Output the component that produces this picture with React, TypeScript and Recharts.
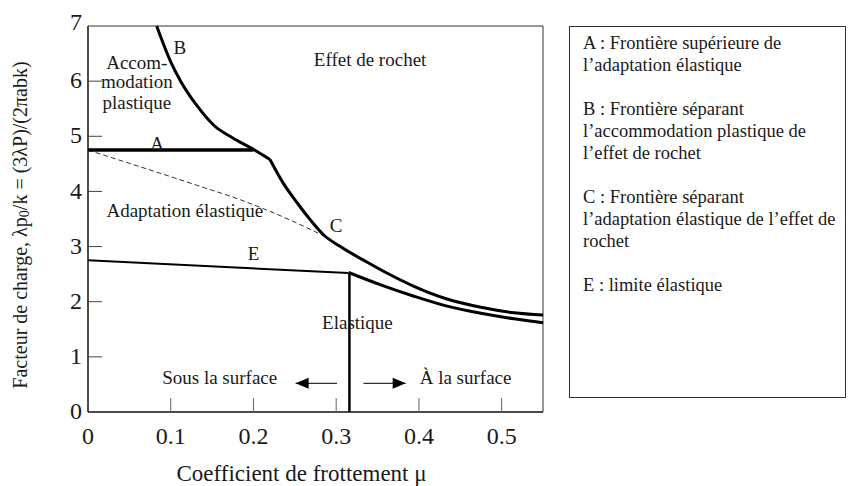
import React from "react";
import { LineChart, Line, XAxis, YAxis, ReferenceLine, ReferenceDot } from "recharts";

const xTicks = [0, 0.1, 0.2, 0.3, 0.4, 0.5];
const yTicks = [0, 1, 2, 3, 4, 5, 6, 7];

// A : upper limit of elastic shakedown
const curveA = [
  { x: 0, y: 4.75 },
  { x: 0.2, y: 4.75 },
];
// B : plastic accommodation / ratchetting boundary
const curveB = [
  { x: 0.083, y: 7 },
  { x: 0.1, y: 6.35 },
  { x: 0.112, y: 6.0 },
  { x: 0.132, y: 5.55 },
  { x: 0.152, y: 5.2 },
  { x: 0.175, y: 4.97 },
  { x: 0.198, y: 4.78 },
  { x: 0.22, y: 4.58 },
];
// C : elastic shakedown / ratchetting boundary
const curveC = [
  { x: 0.22, y: 4.58 },
  { x: 0.236, y: 4.15 },
  { x: 0.253, y: 3.79 },
  { x: 0.269, y: 3.48 },
  { x: 0.285, y: 3.21 },
  { x: 0.305, y: 3.0 },
  { x: 0.337, y: 2.72 },
  { x: 0.36, y: 2.53 },
  { x: 0.394, y: 2.28 },
  { x: 0.434, y: 2.05 },
  { x: 0.475, y: 1.9 },
  { x: 0.515, y: 1.8 },
  { x: 0.55, y: 1.76 },
];
// dashed boundary
const curveDashed = [
  { x: 0, y: 4.75 },
  { x: 0.136, y: 4.09 },
  { x: 0.184, y: 3.85 },
  { x: 0.249, y: 3.45 },
  { x: 0.287, y: 3.18 },
];
// E : elastic limit
const curveE = [
  { x: 0, y: 2.75 },
  { x: 0.315, y: 2.52 },
];
const curveE2 = [
  { x: 0.315, y: 2.53 },
  { x: 0.353, y: 2.31 },
  { x: 0.394, y: 2.1 },
  { x: 0.434, y: 1.92 },
  { x: 0.475, y: 1.79 },
  { x: 0.515, y: 1.69 },
  { x: 0.55, y: 1.62 },
];
const vertical = [
  { x: 0.316, y: 0 },
  { x: 0.316, y: 2.52 },
];
const arrowLeft = [
  { x: 0.301, y: 0.52 },
  { x: 0.251, y: 0.52 },
];
const arrowRight = [
  { x: 0.333, y: 0.52 },
  { x: 0.384, y: 0.52 },
];

const annotations = [
  { text: "Accom-", x: 0.059, y: 6.35 },
  { text: "modation", x: 0.059, y: 5.99 },
  { text: "plastique", x: 0.059, y: 5.61 },
  { text: "B", x: 0.111, y: 6.62 },
  { text: "A", x: 0.0835, y: 4.88 },
  { text: "Adaptation élastique", x: 0.117, y: 3.65 },
  { text: "Effet de rochet", x: 0.341, y: 6.39 },
  { text: "C", x: 0.3, y: 3.39 },
  { text: "E", x: 0.2, y: 2.886 },
  { text: "Elastique", x: 0.3257, y: 1.633 },
  { text: "Sous la surface", x: 0.1592, y: 0.635 },
  { text: "À la surface", x: 0.4564, y: 0.635 },
];

const legendParagraphs = [
  ["A : Frontière supérieure de", "l’adaptation élastique"],
  ["B : Frontière séparant", "l’accommodation plastique de", "l’effet de rochet"],
  ["C : Frontière séparant", "l’adaptation élastique de l’effet de", "rochet"],
  ["E : limite élastique"],
];

const FONT = "'Liberation Serif', 'Times New Roman', serif";
const TEXT = "#1a1a1a";

const YTick = (props: any) => {
  const { x, y, payload } = props;
  const axisX = x + 6;
  const v = payload.value;
  return (
    <g>
      {v > 0 && v < 7 ? (
        <line x1={axisX} x2={axisX + 14} y1={y} y2={y} stroke="#444" strokeWidth={1} />
      ) : null}
      <text x={x} y={v === 7 ? y - 3 : y} dy="0.3em" textAnchor="end" fontSize={24} fill={TEXT} fontFamily={FONT}>
        {v}
      </text>
    </g>
  );
};

const XTick = (props: any) => {
  const { x, y, payload } = props;
  const axisY = y - 15;
  const v = payload.value;
  return (
    <g>
      {v > 0 ? (
        <line x1={x} x2={x} y1={axisY} y2={axisY - 14} stroke="#666" strokeWidth={1} />
      ) : null}
      <text x={x} y={y} dy="0.71em" textAnchor="middle" fontSize={24} fill={TEXT} fontFamily={FONT}>
        {v}
      </text>
    </g>
  );
};

const arrowDot = (dir: number) => (props: any) => {
  const { cx, cy, index } = props;
  if (index !== 1) return <g key={`d${index}`} />;
  const b = cx + dir * 13;
  return (
    <path
      key={`d${index}`}
      d={`M${cx},${cy} L${b},${cy - 5.5} L${b},${cy + 5.5} Z`}
      fill="#000"
      stroke="none"
    />
  );
};

const YTitle = (props: any) => {
  const { viewBox } = props;
  const cx = viewBox.x + 20;
  const cy = viewBox.y + viewBox.height / 2 + 6;
  return (
    <text
      x={cx}
      y={cy}
      transform={`rotate(-90 ${cx} ${cy})`}
      textAnchor="middle"
      dominantBaseline="central"
      fontSize={20}
      fill={TEXT}
      fontFamily={FONT}
    >
      Facteur de charge, λp<tspan fontSize={14} dy={4}>0</tspan>
      <tspan dy={-4}>/k = (3λP)/(2πabk)</tspan>
    </text>
  );
};

const XTitle = (props: any) => {
  const { viewBox } = props;
  const cx = viewBox.x + viewBox.width / 2 - 14;
  const cy = viewBox.y + 61;
  return (
    <text x={cx} y={cy} textAnchor="middle" dominantBaseline="central" fontSize={23} fill={TEXT} fontFamily={FONT}>
      Coefficient de frottement μ
    </text>
  );
};

const lineCommon = {
  dataKey: "y",
  dot: false,
  activeDot: false,
  isAnimationActive: false,
  stroke: "#000",
  legendType: "none" as const,
};

export default function App() {
  return (
    <div style={{ position: "absolute", left: 0, top: 0, width: 850, height: 486, background: "#fff", fontFamily: FONT }}>
      <LineChart
        width={850}
        height={486}
        margin={{ top: 26, right: 307, bottom: 14, left: 0 }}
        style={{ fontFamily: FONT }}
      >
        <XAxis
          type="number"
          dataKey="x"
          domain={[0, 0.55]}
          ticks={xTicks}
          allowDuplicatedCategory={false}
          height={60}
          tickSize={0}
          tickMargin={15}
          tickLine={false}
          tick={<XTick />}
          axisLine={{ stroke: "#111", strokeWidth: 1.5 }}
          label={<XTitle />}
        />
        <YAxis
          type="number"
          domain={[0, 7]}
          ticks={yTicks}
          width={88}
          tickSize={0}
          tickMargin={6}
          tickLine={false}
          tick={<YTick />}
          axisLine={{ stroke: "#111", strokeWidth: 1.5 }}
          label={<YTitle />}
        />
        <ReferenceLine y={7} stroke="#333" strokeWidth={1} />
        <ReferenceLine x={0.55} stroke="#333" strokeWidth={1} />

        <Line {...lineCommon} data={curveDashed} type="monotone" strokeWidth={1} strokeDasharray="5 3" stroke="#333" />
        <Line {...lineCommon} data={curveA} type="linear" strokeWidth={3.5} />
        <Line {...lineCommon} data={curveB} type="monotone" strokeWidth={3} />
        <Line {...lineCommon} data={curveC} type="monotone" strokeWidth={3} />
        <Line {...lineCommon} data={curveE} type="linear" strokeWidth={2} />
        <Line {...lineCommon} data={curveE2} type="monotone" strokeWidth={3} />
        <Line {...lineCommon} data={vertical} type="linear" strokeWidth={2.5} />
        <Line {...lineCommon} data={arrowLeft} type="linear" strokeWidth={1} dot={arrowDot(1)} />
        <Line {...lineCommon} data={arrowRight} type="linear" strokeWidth={1} dot={arrowDot(-1)} />

        {annotations.map((a, i) => (
          <ReferenceDot
            key={i}
            x={a.x}
            y={a.y}
            r={0}
            fill="none"
            stroke="none"
            label={{ value: a.text, position: "center", fontSize: 19, fill: TEXT, fontFamily: FONT }}
          />
        ))}
      </LineChart>
      <div
        style={{
          position: "absolute",
          left: 569,
          top: 26,
          width: 277,
          height: 372,
          boxSizing: "border-box",
          border: "1px solid #333",
          padding: "5px 0 0 13px",
          fontSize: 18.5,
          lineHeight: "22px",
          color: TEXT,
          fontFamily: FONT,
          whiteSpace: "nowrap",
        }}
      >
        {legendParagraphs.map((p, i) => (
          <div key={i} style={{ marginBottom: 22 }}>
            {p.map((l, j) => (
              <div key={j}>{l}</div>
            ))}
          </div>
        ))}
      </div>
    </div>
  );
}
